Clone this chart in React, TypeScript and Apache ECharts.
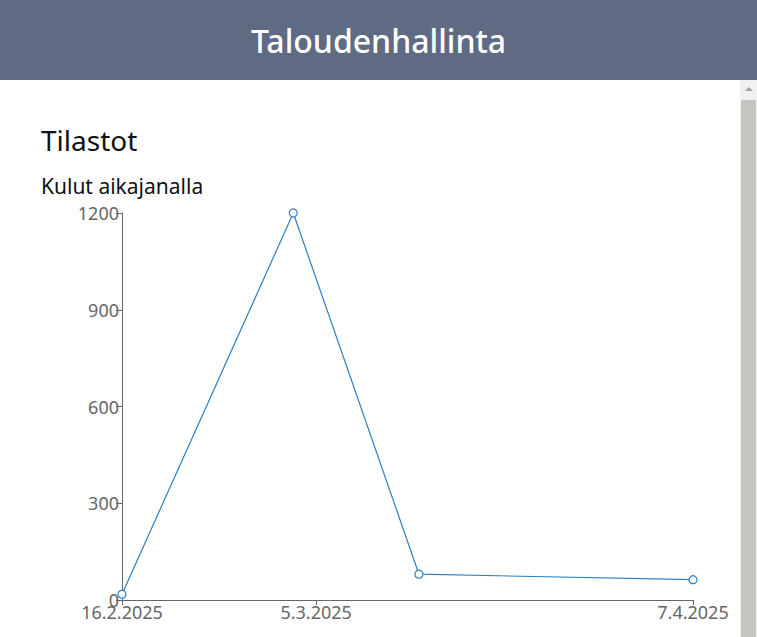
import { useEffect, useRef } from "react";
import * as echarts from "echarts";

const dates = ["2025-02-16", "2025-03-03", "2025-03-14", "2025-04-07"];
const amounts = [18, 1200, 80, 63];
const tickDates = ["2025-02-16", "2025-03-05", "2025-04-07"];
const yTicks = [0, 300, 600, 900, 1200];

const DAY = 86400000;
const start = Date.parse(dates[0]);
const toDay = (d: string) => Math.round((Date.parse(d) - start) / DAY);
const fmt = (day: number) => {
  const d = new Date(start + day * DAY);
  return `${d.getUTCDate()}.${d.getUTCMonth() + 1}.${d.getUTCFullYear()}`;
};

const font = "'Noto Sans', sans-serif";

export default function App() {
  const chartRef = useRef<HTMLDivElement>(null);

  useEffect(() => {
    if (!chartRef.current) return;
    const chart = echarts.init(chartRef.current, undefined, { renderer: "svg" });
    chart.setOption({
      animation: false,
      grid: { left: 122, right: 47, top: 13, bottom: 37 },
      xAxis: {
        type: "value",
        min: 0,
        max: toDay(dates[dates.length - 1]),
        splitLine: { show: false },
        axisLine: { lineStyle: { color: "#666" } },
        axisTick: { show: true, customValues: tickDates.map(toDay), lineStyle: { color: "#666" } },
        axisLabel: {
          customValues: tickDates.map(toDay),
          formatter: (v: number) => fmt(v),
          color: "#666",
          fontSize: 18,
          fontFamily: font,
          margin: 3,
        },
      },
      yAxis: {
        type: "value",
        min: 0,
        max: 1200,
        interval: 300,
        splitLine: { show: false },
        axisLine: { show: true, lineStyle: { color: "#666" } },
        axisTick: { show: true, length: 6, lineStyle: { color: "#666" } },
        axisLabel: {
          formatter: (v: number) => (yTicks.includes(v) ? String(v) : ""),
          color: "#666",
          fontSize: 18,
          fontFamily: font,
          margin: 3,
        },
      },
      series: [
        {
          type: "line",
          data: dates.map((d, i) => [toDay(d), amounts[i]]),
          symbol: "circle",
          symbolSize: 8,
          lineStyle: { color: "#2f7fc1", width: 1.2 },
          itemStyle: { color: "#fff", borderColor: "#2f7fc1", borderWidth: 1.2 },
        },
      ],
    });
    return () => chart.dispose();
  }, []);

  return (
    <div style={{ position: "absolute", left: 0, top: 0, width: 757, height: 637, overflow: "hidden", background: "#fff", fontFamily: font }}>
      <div style={{ height: 80, background: "#5f6b83", color: "#fff", fontSize: 32, fontWeight: 500, display: "flex", alignItems: "center", justifyContent: "center" }}>
        Taloudenhallinta
      </div>
      <div style={{ position: "absolute", left: 740, top: 80, width: 17, height: 557, background: "#f1f1f1" }}>
        <div style={{ position: "absolute", left: 1, top: 20, width: 15, height: 537, background: "#c4c4c0" }} />
        <div style={{ position: "absolute", left: 5, top: 7, width: 0, height: 0, borderLeft: "4px solid transparent", borderRight: "4px solid transparent", borderBottom: "4px solid #a3a3a3" }} />
      </div>
      <div style={{ position: "absolute", left: 41, top: 121, fontSize: 28, color: "#111" }}>Tilastot</div>
      <div style={{ position: "absolute", left: 41, top: 172, fontSize: 21, color: "#111" }}>Kulut aikajanalla</div>
      <div ref={chartRef} style={{ position: "absolute", left: 0, top: 200, width: 740, height: 437 }} />
    </div>
  );
}
